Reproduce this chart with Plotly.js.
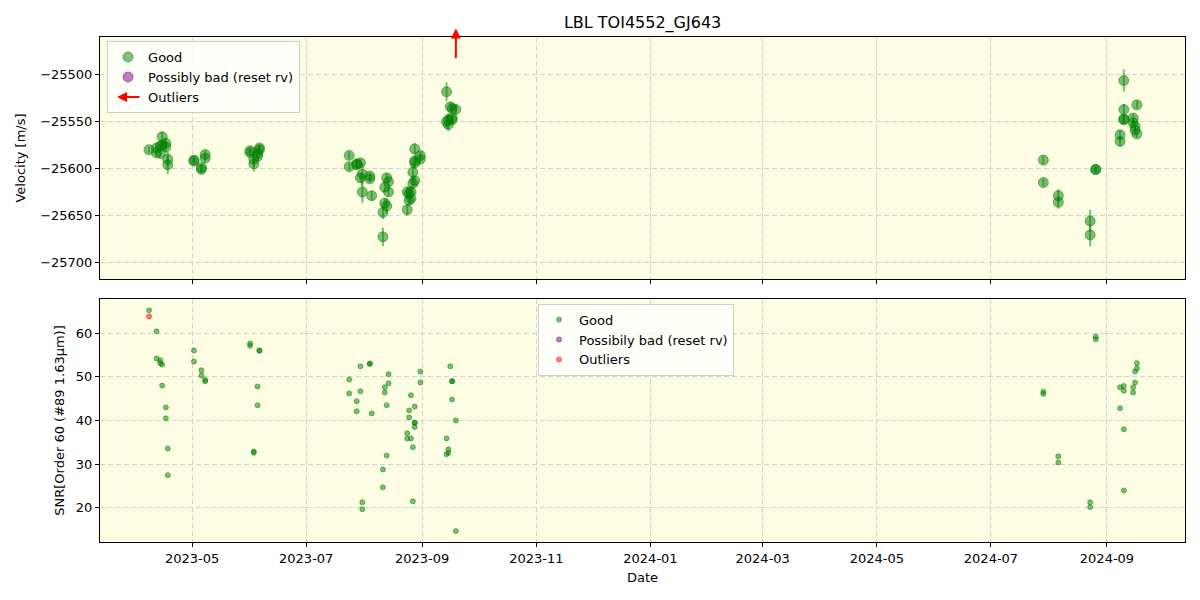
<!DOCTYPE html>
<html>
<head>
<meta charset="utf-8">
<script src="https://cdn.plot.ly/plotly-3.0.1.min.js"></script>
<style>html,body{margin:0;padding:0;background:#fff;}#chart{width:1200px;height:600px;}</style>
</head>
<body>
<div id="chart"></div>
<script>
// ---- Velocity panel data (Good) ----
const rvDates = [
  '2023-04-08','2023-04-12','2023-04-12','2023-04-14','2023-04-14','2023-04-15','2023-04-15','2023-04-17','2023-04-17','2023-04-18','2023-04-18',
  '2023-05-02','2023-05-02','2023-05-06','2023-05-06','2023-05-08','2023-05-08',
  '2023-06-01','2023-06-01','2023-06-03','2023-06-03','2023-06-05','2023-06-05','2023-06-06','2023-06-06',
  '2023-07-24','2023-07-24','2023-07-28','2023-07-28','2023-07-30','2023-07-30','2023-07-31','2023-07-31',
  '2023-08-04','2023-08-04','2023-08-05','2023-08-11','2023-08-11','2023-08-12','2023-08-12','2023-08-13','2023-08-13','2023-08-14','2023-08-14',
  '2023-08-24','2023-08-24','2023-08-25','2023-08-25','2023-08-26','2023-08-26','2023-08-27','2023-08-27',
  '2023-08-28','2023-08-28','2023-08-28','2023-08-28','2023-08-31','2023-08-31',
  '2023-09-14','2023-09-14','2023-09-15','2023-09-15','2023-09-16','2023-09-17','2023-09-17','2023-09-17','2023-09-19',
  '2024-07-29','2024-07-29','2024-08-06','2024-08-06','2024-08-23','2024-08-23','2024-08-26','2024-08-26',
  '2024-09-08','2024-09-08','2024-09-10','2024-09-10','2024-09-10','2024-09-10',
  '2024-09-15','2024-09-15','2024-09-16','2024-09-16','2024-09-17','2024-09-17'
];
const rvValues = [
  -25580,-25578,-25583,-25584,-25576,-25566,-25575,-25573,-25577,-25590,-25596,
  -25592,-25591,-25599,-25601,-25585,-25589,
  -25581,-25583,-25595,-25590,-25587,-25584,-25578,-25580,
  -25586,-25598,-25595,-25596,-25594,-25610,-25625,-25606,
  -25608,-25611,-25629,-25647,-25673,-25620,-25637,-25610,-25640,-25614,-25625,
  -25644,-25625,-25627,-25634,-25632,-25625,-25616,-25604,
  -25613,-25594,-25592,-25579,-25586,-25590,
  -25518,-25550,-25553,-25548,-25534,-25546,-25548,-25536,-25537,
  -25591,-25615,-25629,-25636,-25656,-25671,-25601,-25601,
  -25564,-25571,-25547,-25548,-25537,-25506,
  -25546,-25551,-25555,-25559,-25532,-25563
];
const rvErrors = [
  3,3,3,4,4,5,5,5,6,8,10,
  3,3,4,4,4,4,
  3,3,8,8,5,5,4,4,
  4,4,5,5,4,5,12,12,
  4,4,5,7,10,5,5,5,8,4,5,
  6,6,5,5,5,6,7,10,
  5,6,6,6,4,4,
  10,8,7,7,4,4,4,5,5,
  4,4,7,7,12,12,3,3,
  5,5,4,4,6,12,
  4,4,4,4,4,4
];
// Velocity outlier beyond the top of the axis (drawn as an arrow)
const rvOutlierDates = ['2023-09-19'];
// Possibly bad (reset rv): none (a single empty entry keeps the legend item)
const badDates = [null];
const badValues = [null];

// ---- SNR panel data ----
const snrDates = [
  '2023-04-08','2023-04-12','2023-04-12','2023-04-14','2023-04-14','2023-04-15','2023-04-15','2023-04-17','2023-04-17','2023-04-18','2023-04-18',
  '2023-05-02','2023-05-02','2023-05-06','2023-05-06','2023-05-08','2023-05-08',
  '2023-06-01','2023-06-01','2023-06-03','2023-06-03','2023-06-05','2023-06-05','2023-06-06','2023-06-06',
  '2023-07-24','2023-07-24','2023-07-28','2023-07-28','2023-07-30','2023-07-30','2023-07-31','2023-07-31',
  '2023-08-04','2023-08-04','2023-08-05','2023-08-11','2023-08-11','2023-08-12','2023-08-12','2023-08-13','2023-08-13','2023-08-14','2023-08-14',
  '2023-08-24','2023-08-24','2023-08-25','2023-08-25','2023-08-26','2023-08-26','2023-08-27','2023-08-27',
  '2023-08-28','2023-08-28','2023-08-28','2023-08-28','2023-08-31','2023-08-31',
  '2023-09-14','2023-09-14','2023-09-15','2023-09-15','2023-09-16','2023-09-17','2023-09-17','2023-09-17','2023-09-19','2023-09-19',
  '2024-07-29','2024-07-29','2024-08-06','2024-08-06','2024-08-23','2024-08-23','2024-08-26','2024-08-26',
  '2024-09-08','2024-09-08','2024-09-10','2024-09-10','2024-09-10','2024-09-10',
  '2024-09-15','2024-09-15','2024-09-16','2024-09-16','2024-09-17','2024-09-17'
];
const snrValues = [
  65.2,60.4,54.2,53.8,53.1,52.8,48.0,43.0,40.5,33.6,27.5,
  56.0,53.5,51.5,50.3,49.3,49.0,
  57.6,57.1,32.9,32.6,47.8,43.5,56.0,56.0,
  49.4,46.2,44.4,42.1,52.4,46.7,21.3,19.7,
  53.0,53.0,41.6,28.8,24.7,47.6,46.4,43.5,32.0,50.6,48.5,
  37.1,35.9,42.3,40.7,45.8,35.9,33.9,21.5,
  43.2,39.5,39.5,38.5,51.2,48.7,
  35.9,32.3,33.4,32.6,52.4,49.0,49.0,44.8,40.0,14.7,
  46.6,46.1,31.8,30.4,21.3,20.2,59.2,58.6,
  47.6,42.8,47.9,46.8,38.0,24.0,
  47.6,46.4,51.2,48.7,53.1,51.9
];
const snrOutlierDates = ['2023-04-08'];
const snrOutlierValues = [63.8];

const xTickStart = '2023-05-01';

const GREEN = 'rgba(0,128,0,0.5)';
const PURPLE = 'rgba(128,0,128,0.5)';
const RED = 'rgba(255,0,0,0.5)';
const FONT = 'DejaVu Sans, sans-serif';

const traces = [
  {
    type: 'scatter', mode: 'markers', name: 'Good',
    x: rvDates, y: rvValues,
    error_y: {type: 'data', array: rvErrors, visible: true, color: GREEN, thickness: 2, width: 0},
    marker: {color: GREEN, size: 10, line: {color: GREEN, width: 1}},
    xaxis: 'x', yaxis: 'y', legend: 'legend'
  },
  {
    type: 'scatter', mode: 'markers', name: 'Possibly bad (reset rv)',
    x: badDates, y: badValues,
    marker: {color: PURPLE, size: 10, line: {color: PURPLE, width: 1}},
    xaxis: 'x', yaxis: 'y', legend: 'legend'
  },
  {
    type: 'scatter', mode: 'lines', name: 'Outliers',
    x: [null], y: [null],
    line: {color: 'rgba(255,0,0,0)', width: 2},
    xaxis: 'x', yaxis: 'y', legend: 'legend'
  },
  {
    type: 'scatter', mode: 'markers', name: 'Good',
    x: snrDates, y: snrValues,
    marker: {color: GREEN, size: 5, line: {color: GREEN, width: 1}},
    xaxis: 'x2', yaxis: 'y2', legend: 'legend2'
  },
  {
    type: 'scatter', mode: 'markers', name: 'Possibily bad (reset rv)',
    x: badDates, y: badValues,
    marker: {color: PURPLE, size: 5, line: {color: PURPLE, width: 1}},
    xaxis: 'x2', yaxis: 'y2', legend: 'legend2'
  },
  {
    type: 'scatter', mode: 'markers', name: 'Outliers',
    x: snrOutlierDates, y: snrOutlierValues,
    marker: {color: RED, size: 5, line: {color: RED, width: 1}},
    xaxis: 'x2', yaxis: 'y2', legend: 'legend2'
  }
];

const axisCommon = {
  showline: true, mirror: true, linecolor: 'black', linewidth: 1,
  ticks: 'outside', ticklen: 4, tickcolor: 'black',
  showgrid: true, gridcolor: '#d2d2d2', griddash: '5px,3px', gridwidth: 1,
  zeroline: false,
  tickfont: {family: FONT, size: 13, color: 'black'}
};

const xRange = ['2023-03-12 19:00', '2024-10-12 17:00'];

const outlierArrows = rvOutlierDates.map(d => ({
  x: d, xref: 'x', y: 1.035, yref: 'y domain',
  ax: 0, ay: 31, axref: 'pixel', ayref: 'pixel',
  text: '', showarrow: true, arrowhead: 2, arrowsize: 1, arrowwidth: 2, arrowcolor: 'red'
}));
// legend key for the "Outliers" entry: a left-pointing red arrow
const legendArrow = {
  x: 0.0157, xref: 'paper', y: 0.8812, yref: 'paper',
  ax: 24, ay: 0, axref: 'pixel', ayref: 'pixel',
  text: '', showarrow: true, arrowhead: 2, arrowsize: 1, arrowwidth: 2, arrowcolor: 'red'
};

const layout = {
  width: 1200, height: 600,
  paper_bgcolor: 'white', plot_bgcolor: '#fdfde3',
  margin: {l: 100, r: 15, t: 37, b: 58},
  font: {family: FONT, size: 13, color: 'black'},
  title: {text: 'LBL TOI4552_GJ643', font: {family: FONT, size: 16, color: 'black'}, x: 0.5355, xanchor: 'center', y: 0.962, yanchor: 'middle'},
  xaxis: Object.assign({}, axisCommon, {
    type: 'date', range: xRange, anchor: 'y', domain: [0, 1],
    tick0: xTickStart, dtick: 'M2', showticklabels: false
  }),
  xaxis2: Object.assign({}, axisCommon, {
    type: 'date', range: xRange, anchor: 'y2', domain: [0, 1], matches: 'x',
    tick0: xTickStart, dtick: 'M2', tickformat: '%Y-%m',
    title: {text: 'Date', font: {family: FONT, size: 13, color: 'black'}, standoff: 8}
  }),
  yaxis: Object.assign({}, axisCommon, {
    domain: [0.5208, 1], anchor: 'x', range: [-25718, -25459.5],
    tick0: -25700, dtick: 50, tickformat: 'd',
    title: {text: 'Velocity [m/s]', font: {family: FONT, size: 13, color: 'black'}, standoff: 11}
  }),
  yaxis2: Object.assign({}, axisCommon, {
    domain: [0, 0.4812], anchor: 'x2', range: [12.2, 67.8],
    tick0: 0, dtick: 10,
    title: {text: 'SNR[Order 60 (#89 1.63μm)]', font: {family: FONT, size: 13, color: 'black'}, standoff: 8}
  }),
  legend: {
    x: 0.0065, y: 0.992, xanchor: 'left', yanchor: 'top',
    bgcolor: 'rgba(255,255,255,0.8)', bordercolor: '#cccccc', borderwidth: 1,
    font: {family: FONT, size: 13, color: 'black'}, tracegroupgap: 0
  },
  legend2: {
    x: 0.4037, y: 0.472, xanchor: 'left', yanchor: 'top',
    bgcolor: 'rgba(255,255,255,0.8)', bordercolor: '#cccccc', borderwidth: 1,
    font: {family: FONT, size: 13, color: 'black'}, tracegroupgap: 0
  },
  annotations: outlierArrows.concat([legendArrow]),
  showlegend: true
};

Plotly.newPlot('chart', traces, layout, {displayModeBar: false, staticPlot: true});
</script>
</body>
</html>
